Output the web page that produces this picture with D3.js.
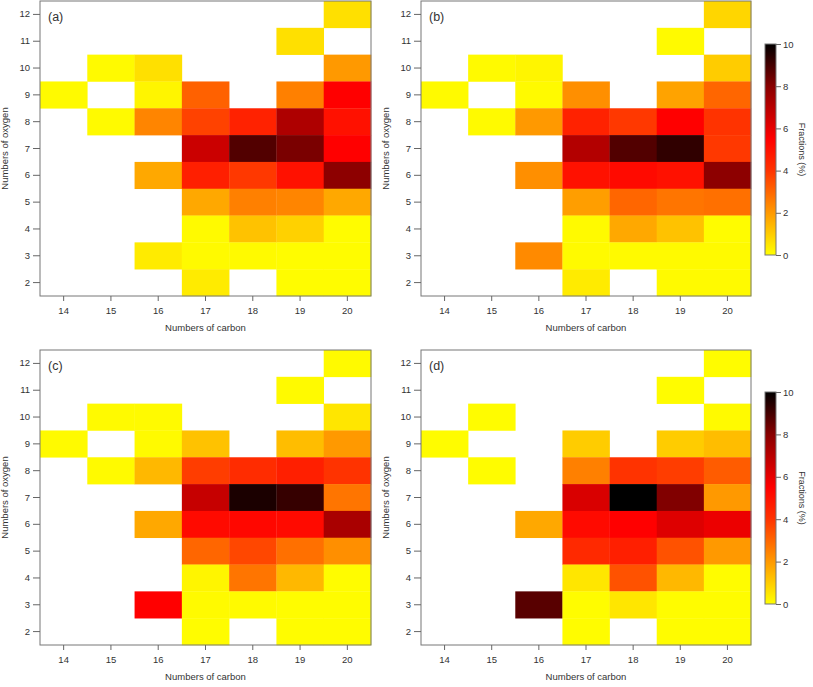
<!DOCTYPE html>
<html><head><meta charset="utf-8">
<script src="https://cdn.jsdelivr.net/npm/d3@7"></script>
<style>
html,body{margin:0;padding:0;background:#fff;}
text{font-family:"Liberation Sans",Arial,sans-serif;fill:#333;}
</style></head>
<body><svg id="chart" width="813" height="687"></svg>
<script>
// Categories
const carbons = [14, 15, 16, 17, 18, 19, 20];
const oxygens = [12, 11, 10, 9, 8, 7, 6, 5, 4, 3, 2]; // row order top -> bottom
const panelLabels = ["(a)", "(b)", "(c)", "(d)"];
const colorTicks = [0, 2, 4, 6, 8, 10];
const N = null;
// Fractions (%) per row (O12 ... O2), columns C14 ... C20
const panelA = [
  [N,N,N,N,N,N,0.6],
  [N,N,N,N,N,0.6,N],
  [N,0.1,0.6,N,N,N,2.0],
  [0.1,N,0.2,3.1,N,2.5,5.5],
  [N,0.1,2.4,3.7,4.5,7.2,5.0],
  [N,N,N,6.6,8.8,8.2,5.5],
  [N,N,1.7,4.6,3.9,5.0,7.9],
  [N,N,N,1.7,2.5,2.4,1.7],
  [N,N,N,0.1,1.2,0.9,0.05],
  [N,N,0.4,0.1,0.1,0.05,0.05],
  [N,N,N,0.4,N,0.05,0.05]
];
const panelB = [
  [N,N,N,N,N,N,0.8],
  [N,N,N,N,N,0.1,N],
  [N,0.1,0.2,N,N,N,1.0],
  [0.1,N,0.1,2.2,N,1.8,3.0],
  [N,0.1,2.0,4.5,3.9,5.5,4.0],
  [N,N,N,7.1,8.8,9.3,3.9],
  [N,N,2.2,5.0,5.2,5.0,7.9],
  [N,N,N,1.9,3.0,2.7,2.8],
  [N,N,N,0.1,1.7,1.2,0.05],
  [N,N,2.3,0.1,0.1,0.1,0.1],
  [N,N,N,0.4,N,0.1,0.1]
];
const panelC = [
  [N,N,N,N,N,N,0.1],
  [N,N,N,N,N,0.1,N],
  [N,0.1,0.1,N,N,N,0.5],
  [0.1,N,0.1,1.2,N,1.3,2.0],
  [N,0.1,1.4,3.8,4.2,4.6,4.0],
  [N,N,N,6.7,9.6,9.2,2.7],
  [N,N,1.7,5.2,5.3,5.2,7.3],
  [N,N,N,3.0,3.6,2.8,2.2],
  [N,N,N,0.2,2.7,1.4,0.05],
  [N,N,5.5,0.1,0.1,0.05,0.05],
  [N,N,N,0.05,N,0.05,0.05]
];
const panelD = [
  [N,N,N,N,N,N,0.05],
  [N,N,N,N,N,0.05,N],
  [N,0.05,N,N,N,N,0.1],
  [0.05,N,N,1.0,N,1.0,1.3],
  [N,0.05,N,2.5,4.0,3.8,3.2],
  [N,N,N,6.3,10,8.1,2.0],
  [N,N,1.7,5.2,5.5,6.2,5.9],
  [N,N,N,4.3,4.6,3.4,2.0],
  [N,N,N,0.5,3.4,1.4,0.05],
  [N,N,8.7,0.05,0.5,0.05,0.05],
  [N,N,N,0.05,N,0.05,0.05]
];
const panels = [panelA, panelB, panelC, panelD];

const color = d3.scaleLinear()
  .domain([0, 2, 4, 5.5, 8, 10])
  .range(["#ffff00", "#ff9900", "#ff3300", "#ff0000", "#880000", "#000000"])
  .clamp(true);

const svg = d3.select("#chart");
const frames = [
  {x0: 40, x1: 371, y0: 1, y1: 296, bar: false},
  {x0: 421, x1: 751, y0: 1, y1: 296, bar: true, barY0: 44, barY1: 255},
  {x0: 40, x1: 371, y0: 350, y1: 645, bar: false},
  {x0: 421, x1: 751, y0: 350, y1: 645, bar: true, barY0: 392, barY1: 604}
];

// gradient
const defs = svg.append("defs");
const grad = defs.append("linearGradient").attr("id", "cbar")
  .attr("x1", 0).attr("y1", 1).attr("x2", 0).attr("y2", 0);
d3.range(0, 10.01, 0.5).forEach(v => {
  grad.append("stop").attr("offset", v / 10).attr("stop-color", color(v));
});

frames.forEach((f, i) => {
  const data = panels[i];
  const x = d3.scaleBand().domain(carbons).range([f.x0, f.x1]).padding(0);
  const y = d3.scaleBand().domain(oxygens).range([f.y0, f.y1]).padding(0);
  const g = svg.append("g");
  const cells = [];
  data.forEach((row, ri) => row.forEach((v, ci) => {
    if (v !== null) cells.push({c: carbons[ci], o: oxygens[ri], v});
  }));
  g.selectAll("rect.cell").data(cells).join("rect")
    .attr("class", "cell")
    .attr("x", d => x(d.c)).attr("y", d => y(d.o))
    .attr("width", x.bandwidth() + 0.3).attr("height", y.bandwidth() + 0.3)
    .attr("fill", d => color(d.v));

  // frame
  g.append("rect").attr("x", f.x0).attr("y", f.y0)
    .attr("width", f.x1 - f.x0).attr("height", f.y1 - f.y0)
    .attr("fill", "none").attr("stroke", "#777").attr("stroke-width", 1);

  const xAxis = g.append("g").attr("transform", `translate(0,${f.y1})`)
    .call(d3.axisBottom(x).tickSize(5).tickPadding(6).tickSizeOuter(0));
  const yAxis = g.append("g").attr("transform", `translate(${f.x0},0)`)
    .call(d3.axisLeft(y).tickSize(7).tickPadding(3).tickSizeOuter(0));
  [xAxis, yAxis].forEach(a => {
    a.select(".domain").remove();
    a.selectAll("line").attr("stroke", "#666");
    a.selectAll("text").attr("font-size", "9.5px").attr("fill", "#333")
      .style("font-family", '"Liberation Sans",Arial,sans-serif');
  });

  g.append("text").attr("x", (f.x0 + f.x1) / 2).attr("y", f.y1 + 35)
    .attr("text-anchor", "middle").attr("font-size", "9.5px")
    .text("Numbers of carbon");
  g.append("text")
    .attr("transform", `translate(${f.x0 - 32},${(f.y0 + f.y1) / 2}) rotate(-90)`)
    .attr("text-anchor", "middle").attr("font-size", "9.5px")
    .text("Numbers of oxygen");
  g.append("text").attr("x", f.x0 + 8).attr("y", f.y0 + 20)
    .attr("font-size", "12.5px").attr("fill", "#222").text(panelLabels[i]);

  if (f.bar) {
    const bx = 765, bw = 11;
    const cs = d3.scaleLinear().domain([0, 10]).range([f.barY1, f.barY0]);
    g.append("rect").attr("x", bx).attr("y", f.barY0).attr("width", bw)
      .attr("height", f.barY1 - f.barY0).attr("fill", "url(#cbar)")
      .attr("stroke", "#777").attr("stroke-width", 1);
    const ca = g.append("g").attr("transform", `translate(${bx + bw},0)`)
      .call(d3.axisRight(cs).tickValues(colorTicks).tickSize(5).tickPadding(2).tickSizeOuter(0));
    ca.select(".domain").remove();
    ca.selectAll("line").attr("stroke", "#666");
    ca.selectAll("text").attr("font-size", "9.5px").attr("fill", "#333")
      .style("font-family", '"Liberation Sans",Arial,sans-serif');
    g.append("text")
      .attr("transform", `translate(${bx + 34},${(f.barY0 + f.barY1) / 2}) rotate(90)`)
      .attr("text-anchor", "middle").attr("font-size", "9px").attr("fill", "#555")
      .text("Fractions (%)");
  }
});
</script></body></html>
